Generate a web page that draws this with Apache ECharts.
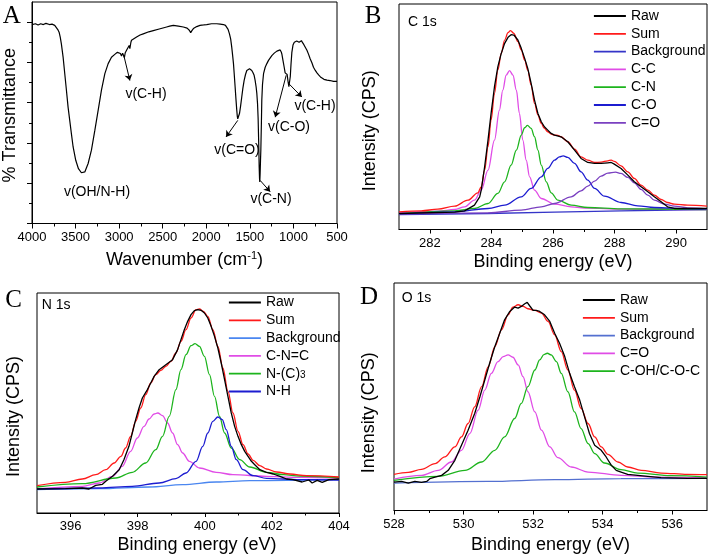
<!DOCTYPE html>
<html><head><meta charset="utf-8">
<script src="https://cdn.jsdelivr.net/npm/echarts@6/dist/echarts.min.js"></script>
<style>html,body{margin:0;padding:0;background:#fff}#c{width:710px;height:559px}</style>
</head><body><div id="c"></div>
<script>
// ---------- DATA ----------
// Panel A: FTIR (wavenumber cm-1, transmittance arb.)
const irSpectrum = [[4000,49.4],[3960,49.6],[3930,49.3],[3900,49.6],[3870,49.4],[3840,49.7],[3800,49.4],[3770,49.5],[3739,49.2],[3720,48.8],[3700,48.0],[3689,47.5],[3676,46.3],[3663,44.6],[3643,41.3],[3624,37.2],[3605,33.1],[3586,28.9],[3567,25.6],[3548,22.3],[3528,19.0],[3498,15.7],[3467,13.6],[3433,12.6],[3421,12.4],[3394,12.8],[3356,14.9],[3318,18.2],[3279,23.1],[3241,28.1],[3203,33.1],[3164,37.2],[3126,39.7],[3088,41.3],[3050,42.0],[3020,42.5],[3000,42.6],[2985,42.2],[2973,41.6],[2960,42.3],[2950,42.0],[2940,41.2],[2930,42.4],[2915,43.0],[2905,42.6],[2896,43.4],[2885,44.2],[2877,43.4],[2865,45.0],[2858,45.5],[2838,45.9],[2800,46.3],[2760,46.8],[2723,47.1],[2660,47.6],[2608,47.9],[2540,48.3],[2455,48.8],[2420,49.0],[2378,49.2],[2320,49.0],[2263,48.8],[2220,48.5],[2195,48.0],[2179,47.4],[2165,47.9],[2148,48.4],[2110,48.9],[2072,49.2],[2030,49.3],[1995,49.4],[1940,49.6],[1880,49.6],[1840,49.5],[1803,49.4],[1780,49.2],[1765,48.8],[1750,48.2],[1734,47.1],[1720,45.8],[1708,43.8],[1698,41.8],[1688,39.7],[1679,37.0],[1669,33.9],[1660,31.0],[1650,28.1],[1644,26.6],[1639,26.0],[1630,26.3],[1619,27.3],[1606,29.2],[1593,31.4],[1580,33.6],[1566,35.5],[1550,37.0],[1535,38.0],[1520,38.4],[1504,38.4],[1490,38.3],[1478,38.0],[1465,37.5],[1451,36.8],[1440,35.6],[1428,33.9],[1420,32.3],[1412,29.8],[1405,26.0],[1401,22.3],[1396,17.5],[1393,14.0],[1389,11.2],[1386,10.3],[1382,12.5],[1378,15.5],[1374,18.2],[1368,24.5],[1363,30.6],[1355,34.5],[1343,37.2],[1324,38.8],[1305,39.7],[1286,40.5],[1248,41.7],[1220,42.3],[1190,42.8],[1170,43.0],[1152,43.1],[1140,42.6],[1133,42.1],[1120,40.5],[1106,38.8],[1095,37.4],[1083,37.8],[1072,37.0],[1062,35.3],[1052,34.0],[1044,33.7],[1036,36.5],[1028,39.5],[1018,42.5],[1005,44.3],[990,45.0],[975,44.7],[962,45.3],[949,45.6],[935,45.0],[922,45.3],[908,45.4],[895,44.9],[880,44.4],[864,44.0],[845,43.0],[826,42.0],[808,40.9],[788,39.9],[770,38.8],[749,38.0],[730,37.4],[711,36.9],[690,36.4],[673,36.1],[650,35.8],[615,35.6],[580,35.5],[540,35.3],[520,35.4],[500,35.3]];
const irLabels = ['v(OH/N-H)','v(C-H)','v(C=O)','v(C-N)','v(C-O)','v(C-H)'];
const irArrows = [[[2946,41.7],[2877,35.5]],[[1639,25.6],[1773,21.5]],[[1382,10.7],[1267,7.9]],[[1083,36.8],[1209,26.4]],[[1052,34.7],[903,31.4]]];
const irTicksX = [500,1000,1500,2000,2500,3000,3500,4000];
const irTicksY = [0,10,20,30,40,50];
const irMinorY = [5,15,25,35,45];

// Panel B: C 1s
const c1sRaw = [[281.00,4.8],[282.81,5.2],[283.13,5.6],[283.45,7.3],[283.62,9.8],[283.67,11.8],[283.78,18.8],[283.89,26.8],[283.99,34.8],[284.10,42.8],[284.21,48.8],[284.32,52.8],[284.43,55.8],[284.54,57.6],[284.64,58.4],[284.73,58.3],[284.86,56.8],[284.97,54.3],[285.08,51.3],[285.18,48.3],[285.29,43.8],[285.40,38.8],[285.51,34.8],[285.62,32.3],[285.72,30.8],[285.83,29.8],[285.94,28.8],[286.05,28.3],[286.26,27.8],[286.48,26.3],[286.70,23.8],[286.91,21.3],[287.13,20.1],[287.35,19.8],[287.56,19.8],[287.78,20.0],[287.89,20.1],[287.99,19.6],[288.21,18.3],[288.43,16.3],[288.64,14.3],[288.86,12.8],[289.08,11.3],[289.29,9.8],[289.51,8.3],[289.72,6.8],[289.94,6.3],[290.37,6.3],[291.00,6.3]];
const c1sSum = [[281.00,5.3],[281.72,5.6],[282.26,6.1],[282.81,7.0],[283.24,8.8],[283.56,11.0],[283.67,12.8],[283.78,17.8],[283.89,24.8],[283.99,32.8],[284.10,40.8],[284.21,47.8],[284.32,52.8],[284.43,56.8],[284.54,59.0],[284.62,59.6],[284.73,58.8],[284.86,56.3],[284.97,53.8],[285.08,50.8],[285.18,47.8],[285.29,43.3],[285.40,37.8],[285.51,34.3],[285.62,31.8],[285.72,30.3],[285.83,29.3],[285.94,28.6],[286.05,28.3],[286.16,28.2],[286.26,27.8],[286.48,26.3],[286.70,24.1],[286.91,21.8],[287.13,20.8],[287.35,20.1],[287.56,20.2],[287.78,20.6],[287.89,20.8],[287.99,20.4],[288.21,19.1],[288.43,17.3],[288.64,15.3],[288.86,13.3],[289.08,11.8],[289.29,10.3],[289.51,9.0],[289.72,8.1],[289.94,7.6],[290.37,7.3],[291.00,7.0]];
const c1sBackground = [[281.00,4.5],[283.89,4.8],[286.05,5.2],[288.21,5.6],[291.00,6.0]];
const c1sCC = [[281.00,5.0],[282.26,5.5],[282.81,6.0],[283.13,6.8],[283.45,8.8],[283.67,11.8],[283.89,17.8],[284.10,26.8],[284.26,35.8],[284.37,41.8],[284.48,46.3],[284.59,47.6],[284.70,46.3],[284.81,41.8],[284.91,34.8],[285.02,26.8],[285.13,20.8],[285.24,15.8],[285.40,11.8],[285.62,9.3],[286.05,7.6],[286.59,6.8],[287.13,6.4],[288.21,6.1],[291.00,6.0]];
const c1sCN = [[281.00,4.7],[282.81,5.6],[283.45,6.3],[283.89,7.8],[284.21,10.8],[284.43,14.3],[284.64,19.3],[284.81,23.8],[284.97,28.3],[285.08,30.5],[285.17,31.2],[285.29,30.3],[285.40,27.8],[285.51,23.8],[285.62,19.3],[285.78,14.3],[285.94,11.0],[286.16,8.8],[286.59,7.3],[287.13,6.6],[288.21,6.2],[291.00,6.0]];
const c1sCO = [[281.00,4.6],[282.81,5.3],[283.89,6.3],[284.43,7.3],[284.97,9.8],[285.29,12.3],[285.62,15.8],[285.83,18.3],[286.05,20.8],[286.21,21.8],[286.33,22.1],[286.48,21.6],[286.70,19.8],[286.91,17.3],[287.13,14.8],[287.35,12.3],[287.67,10.0],[288.21,8.1],[288.75,7.1],[289.29,6.6],[290.37,6.2],[291.00,6.1]];
const c1sCdO = [[281.00,4.6],[283.89,5.0],[284.97,5.8],[285.62,6.8],[286.05,7.8],[286.59,9.8],[286.91,11.6],[287.13,13.0],[287.35,14.5],[287.56,16.0],[287.78,16.9],[288.03,17.2],[288.21,16.8],[288.43,15.6],[288.64,14.0],[288.86,12.0],[289.08,10.3],[289.29,8.8],[289.62,7.6],[289.94,7.0],[290.37,6.5],[291.00,6.2]];
const c1sTicks = [282,284,286,288,290];
const c1sMinor = [283,285,287,289];

// Panel C: N 1s
const n1sRaw = [[395.00,7.2],[395.85,7.3],[396.35,7.5],[396.55,7.2],[396.75,8.3],[396.95,8.6],[397.05,9.5],[397.25,11.0],[397.45,13.0],[397.59,16.0],[397.74,20.0],[397.84,24.0],[397.94,28.0],[398.04,31.5],[398.14,34.5],[398.29,37.0],[398.39,39.0],[398.49,41.0],[398.64,43.0],[398.84,44.5],[399.04,46.0],[399.19,49.0],[399.29,52.0],[399.39,55.0],[399.49,57.5],[399.59,59.5],[399.69,60.7],[399.79,61.0],[399.89,60.8],[399.99,60.0],[400.09,58.5],[400.19,56.0],[400.29,53.0],[400.39,49.5],[400.49,45.0],[400.59,40.0],[400.69,35.0],[400.79,30.0],[400.89,26.0],[400.99,23.0],[401.09,20.5],[401.19,18.5],[401.29,17.0],[401.39,15.5],[401.49,14.5],[401.64,13.0],[401.84,12.2],[402.04,11.7],[402.24,11.0],[402.44,10.2],[402.63,10.0],[402.90,9.3],[403.10,9.9],[403.20,9.0],[403.35,9.8],[403.50,9.2],[403.70,10.0],[404.00,10.2]];
const n1sSum = [[395.00,8.2],[395.85,9.2],[396.35,10.2],[396.75,11.5],[397.05,13.0],[397.30,15.0],[397.50,17.0],[397.64,19.5],[397.79,23.0],[397.94,27.5],[398.09,31.5],[398.24,35.5],[398.39,39.0],[398.54,41.5],[398.69,42.8],[398.84,44.0],[398.99,45.5],[399.14,48.0],[399.29,51.5],[399.44,55.0],[399.59,58.5],[399.74,61.0],[399.84,61.2],[399.96,60.5],[400.09,59.0],[400.24,55.0],[400.39,50.0],[400.54,43.5],[400.69,36.5],[400.84,30.0],[400.99,24.5],[401.14,20.5],[401.29,17.7],[401.44,15.8],[401.64,14.2],[401.84,13.2],[402.14,12.3],[402.54,11.7],[403.03,11.2],[404.00,10.8]];
const n1sBackground = [[395.00,7.0],[396.85,7.3],[398.34,7.8],[399.34,8.5],[400.34,9.3],[401.34,9.7],[404.00,10.0]];
const n1sCNC = [[395.00,7.2],[396.35,8.0],[396.85,9.0],[397.25,11.0],[397.54,14.0],[397.79,18.5],[397.99,22.5],[398.19,26.0],[398.34,28.2],[398.49,29.7],[398.60,30.0],[398.74,29.2],[398.89,27.0],[399.04,24.0],[399.19,20.5],[399.34,18.0],[399.54,15.5],[399.84,13.5],[400.34,12.2],[400.84,11.5],[401.84,11.0],[402.83,10.7],[404.00,10.5]];
const n1sNC3 = [[395.00,7.8],[396.35,8.8],[397.35,10.5],[397.84,12.2],[398.24,15.0],[398.54,19.0],[398.74,23.0],[398.94,29.0],[399.14,37.0],[399.29,43.0],[399.44,47.5],[399.59,50.2],[399.71,50.8],[399.84,50.0],[399.99,47.0],[400.14,41.5],[400.29,35.0],[400.44,29.0],[400.59,24.0],[400.79,19.5],[401.04,16.0],[401.34,13.8],[401.84,12.2],[402.34,11.5],[402.83,11.1],[404.00,10.6]];
const n1sNH = [[395.00,7.2],[396.85,7.5],[397.84,8.0],[398.64,9.0],[399.14,10.3],[399.44,12.0],[399.74,15.5],[399.94,20.0],[400.09,24.0],[400.24,27.5],[400.39,28.8],[400.52,28.0],[400.64,25.0],[400.79,20.0],[400.94,16.0],[401.14,13.0],[401.44,11.2],[401.84,10.4],[402.83,10.0],[404.00,9.9]];
const n1sTicks = [396,398,400,402,404];
const n1sMinor = [397,399,401,403];

// Panel D: O 1s
const o1sRaw = [[528.00,8.5],[528.22,8.7],[528.41,8.2],[528.60,8.7],[528.79,8.4],[528.94,8.7],[529.03,9.5],[529.18,10.0],[529.37,10.5],[529.56,12.0],[529.75,15.0],[529.94,19.5],[530.13,24.0],[530.32,29.0],[530.47,34.0],[530.61,39.0],[530.75,44.0],[530.90,49.0],[531.04,53.0],[531.18,57.0],[531.33,59.5],[531.47,60.8],[531.57,60.5],[531.66,61.0],[531.76,61.8],[531.83,62.2],[531.90,61.2],[532.00,59.8],[532.09,59.8],[532.19,59.5],[532.33,58.5],[532.48,56.5],[532.62,53.0],[532.76,50.0],[532.91,46.0],[533.05,41.0],[533.19,37.0],[533.34,33.0],[533.48,28.0],[533.62,23.0],[533.77,19.5],[533.96,18.0],[534.10,16.0],[534.25,13.5],[534.39,12.0],[534.53,11.5],[534.72,10.8],[535.01,10.5],[535.30,10.2],[535.68,9.8],[536.44,9.6],[537.00,9.6]];
const o1sSum = [[528.00,10.8],[528.41,11.4],[528.79,12.3],[529.18,14.0],[529.46,16.0],[529.75,19.0],[529.94,22.0],[530.13,26.0],[530.32,31.0],[530.52,37.0],[530.71,43.0],[530.90,49.0],[531.09,54.0],[531.28,58.5],[531.42,60.8],[531.57,61.5],[531.71,61.0],[531.85,60.3],[532.05,59.8],[532.24,59.0],[532.43,56.5],[532.62,52.5],[532.81,47.5],[533.00,42.0],[533.19,36.0],[533.38,30.5],[533.58,26.0],[533.77,22.0],[533.96,19.0],[534.15,16.8],[534.44,14.5],[534.72,13.0],[535.11,12.0],[535.68,11.2],[536.44,10.8],[537.00,10.7]];
const o1sBackground = [[528.00,8.2],[530.71,8.7],[532.62,9.2],[534.53,9.5],[537.00,9.6]];
const o1sCdO = [[528.00,9.4],[528.79,10.5],[529.27,12.0],[529.65,14.5],[529.94,18.0],[530.18,23.0],[530.42,30.0],[530.61,36.0],[530.80,41.0],[530.99,44.5],[531.14,46.0],[531.28,46.5],[531.42,45.8],[531.57,43.5],[531.71,40.0],[531.85,35.5],[532.05,29.5],[532.24,24.0],[532.48,19.0],[532.71,15.8],[533.10,13.0],[533.58,11.5],[534.53,10.5],[535.49,10.0],[537.00,9.8]];
const o1sCOH = [[528.00,9.0],[529.27,10.2],[530.04,12.0],[530.52,14.5],[530.90,18.0],[531.18,22.0],[531.47,27.5],[531.66,32.0],[531.85,37.0],[532.05,42.0],[532.19,45.0],[532.31,46.6],[532.41,47.0],[532.52,46.5],[532.67,44.5],[532.81,41.0],[533.00,35.5],[533.19,29.5],[533.38,24.5],[533.58,20.0],[533.77,17.0],[534.05,14.2],[534.53,12.2],[535.01,11.2],[535.97,10.4],[537.00,10.0]];
const o1sTicks = [528,530,532,534,536];
const o1sMinor = [529,531,533,535];

// ---------- STYLE ----------
const FONT = '"Liberation Sans", Arial, Helvetica, sans-serif';
const SERIF = '"Liberation Serif", "Times New Roman", serif';
const COL = {raw:'#000000', sum:'#ff1a1a', bgB:'#3535c8', bgC:'#4a86f0', bgD:'#5470d0', mag:'#e04ce6', grn:'#1db41d', blu:'#1c1cd0', pur:'#7a40c0'};
const grids = [
  {left:32, top:2, width:305, height:221.5},
  {left:399, top:4, width:308, height:225.5},
  {left:37, top:293, width:302, height:220},
  {left:394, top:283, width:313, height:227.5}
];
const nameStyle = {fontSize:18, color:'#000', fontFamily:FONT};
const tickLbl = {fontSize:13, color:'#000', fontFamily:FONT, margin:7, formatter:function(v){return String(v);}};

function xpsX(grid, min, max, ticks, gap, pad) {
  return {type:'value', gridIndex:grid, min:min, max:max, position:'bottom',
    axisLine:{show:true, lineStyle:{color:'#000', width:1}},
    axisTick:{show:true, inside:false, length:4, customValues:ticks, lineStyle:{color:'#000'}},
    axisLabel:Object.assign({customValues:ticks}, tickLbl),
    splitLine:{show:false},
    name:'Binding energy (eV)', nameLocation:'middle', nameGap:gap,
    nameTextStyle:Object.assign({padding:pad || 0}, nameStyle)};
}
function minorX(grid, min, max, ticks) {
  return {type:'value', gridIndex:grid, min:min, max:max, position:'bottom', offset:0,
    axisLine:{show:false}, axisLabel:{show:false}, splitLine:{show:false},
    axisTick:{show:true, inside:false, length:2.5, customValues:ticks, lineStyle:{color:'#000'}}};
}
function xpsY(grid, max, gap, pad) {
  return {type:'value', gridIndex:grid, min:0, max:max, position:'left',
    axisLine:{show:false}, axisTick:{show:false}, axisLabel:{show:false}, splitLine:{show:false},
    name:'Intensity (CPS)', nameLocation:'middle', nameGap:gap,
    nameTextStyle:Object.assign({padding:pad}, nameStyle)};
}
function ln(name, data, color, idx, smooth) {
  return {type:'line', name:name, data:data, xAxisIndex:idx, yAxisIndex:idx,
    symbol:'none', showSymbol:false, smooth: smooth ? 0.35 : false, smoothMonotone:'x',
    lineStyle:{color:color, width:1.3}, itemStyle:{color:color}, clip:true};
}
function legendItems(names, colors) {
  return names.map((n,i)=>({name:n, lineStyle:{color:colors[i], width:1.8},
    itemStyle:{color:'rgba(0,0,0,0)', opacity:0, borderWidth:0}}));
}
function legend(left, top, names, colors) {
  return {show:true, orient:'vertical', left:left, top:top, itemWidth:32, itemHeight:14, itemGap:3.8,
    padding:0, selectedMode:false, data:legendItems(names, colors),
    itemStyle:{opacity:0},
    textStyle:{fontSize:14, color:'#000', fontFamily:FONT, lineHeight:14,
      rich:{sub:{fontSize:10, fontFamily:FONT, color:'#000', padding:[5,0,0,0], verticalAlign:'bottom'}}},
    formatter:function(n){ return n === 'N-(C)3' ? 'N-(C){sub|3}' : n; }};
}

const irAnnot = [[97,192],[146,94],[237,150],[271,199],[289,127],[315,106]];

const option = {
  animation:false,
  backgroundColor:'#ffffff',
  grid: grids.map(g=>Object.assign({show:true, borderColor:'#000', borderWidth:1, backgroundColor:'transparent', containLabel:false}, g)),
  xAxis:[
    {type:'value', gridIndex:0, min:500, max:4000, interval:500, inverse:true, position:'bottom',
     axisLine:{show:true, lineStyle:{color:'#000'}},
     axisTick:{show:true, inside:false, length:5, lineStyle:{color:'#000'}},
     minorTick:{show:true, splitNumber:2, length:3, lineStyle:{color:'#000'}},
     axisLabel:Object.assign({customValues:irTicksX}, tickLbl), splitLine:{show:false},
     name:'Wavenumber (cm{sup|-1})', nameLocation:'middle', nameGap:27,
     nameTextStyle:Object.assign({rich:{sup:{fontSize:11, fontFamily:FONT, color:'#000', padding:[0,0,9,0]}}}, nameStyle)},
    xpsX(1, 281, 291, c1sTicks, 24),
    xpsX(2, 395, 404, n1sTicks, 23.5, [0,0,0,18]),
    xpsX(3, 528, 537, o1sTicks, 25.5),
    minorX(1, 281, 291, c1sMinor),
    minorX(2, 395, 404, n1sMinor),
    minorX(3, 528, 537, o1sMinor)
  ],
  yAxis:[
    {type:'value', gridIndex:0, min:0, max:55, position:'left',
     axisLine:{show:true, lineStyle:{color:'#000'}},
     axisTick:{show:true, inside:false, length:5, customValues:irTicksY, lineStyle:{color:'#000'}},
     axisLabel:{show:false}, splitLine:{show:false},
     name:'% Transmittance', nameLocation:'middle', nameGap:13, nameTextStyle:Object.assign({padding:[0,5,0,0]}, nameStyle)},
    xpsY(1, 67.6, 20, [0,28,0,0]),
    xpsY(2, 66, 14, [0,27,0,0]),
    xpsY(3, 68, 16, [0,32,0,0]),
    {type:'value', gridIndex:0, min:0, max:55, position:'left', offset:0,
     axisLine:{show:false}, axisLabel:{show:false}, splitLine:{show:false},
     axisTick:{show:true, inside:false, length:3, customValues:irMinorY, lineStyle:{color:'#000'}}}
  ],
  legend:[
    legend(593, 9, ['Raw','Sum','Background','C-C','C-N','C-O','C=O'], [COL.raw,COL.sum,COL.bgB,COL.mag,COL.grn,COL.blu,COL.pur]),
    legend(228, 295.5, ['Raw','Sum','Background','C-N=C','N-(C)3','N-H'], [COL.raw,COL.sum,COL.bgC,COL.mag,COL.grn,COL.blu]),
    legend(582, 293, ['Raw','Sum','Background','C=O','C-OH/C-O-C'], [COL.raw,COL.sum,COL.bgD,COL.mag,COL.grn])
  ],
  series:[
    {type:'line', name:'FTIR', data:irSpectrum, xAxisIndex:0, yAxisIndex:0, symbol:'none', showSymbol:false,
     lineStyle:{color:'#000', width:1.2},
     markLine:{silent:true, symbol:['none','arrow'], symbolSize:6, label:{show:false},
       lineStyle:{color:'#000', width:1, type:'solid'}, emphasis:{disabled:true},
       data: irArrows.map(a=>[{coord:a[0]},{coord:a[1]}])}},
    ln('Background', c1sBackground, COL.bgB, 1, false),
    ln('C-C', c1sCC, COL.mag, 1, true),
    ln('C-N', c1sCN, COL.grn, 1, true),
    ln('C-O', c1sCO, COL.blu, 1, true),
    ln('C=O', c1sCdO, COL.pur, 1, true),
    ln('Sum', c1sSum, COL.sum, 1, true),
    ln('Raw', c1sRaw, COL.raw, 1, false),
    ln('Background', n1sBackground, COL.bgC, 2, true),
    ln('C-N=C', n1sCNC, COL.mag, 2, true),
    ln('N-(C)3', n1sNC3, COL.grn, 2, true),
    ln('N-H', n1sNH, COL.blu, 2, true),
    ln('Sum', n1sSum, COL.sum, 2, true),
    ln('Raw', n1sRaw, COL.raw, 2, false),
    ln('Background', o1sBackground, COL.bgD, 3, true),
    ln('C=O', o1sCdO, COL.mag, 3, true),
    ln('C-OH/C-O-C', o1sCOH, COL.grn, 3, true),
    ln('Sum', o1sSum, COL.sum, 3, true),
    ln('Raw', o1sRaw, COL.raw, 3, false)
  ],
  graphic:[
    {type:'text', x:11.7, y:16.5, style:{text:'A', fontSize:25, fontFamily:SERIF, fill:'#000', align:'center', verticalAlign:'middle'}},
    {type:'text', x:373, y:16, style:{text:'B', fontSize:25, fontFamily:SERIF, fill:'#000', align:'center', verticalAlign:'middle'}},
    {type:'text', x:13.5, y:300, style:{text:'C', fontSize:25, fontFamily:SERIF, fill:'#000', align:'center', verticalAlign:'middle'}},
    {type:'text', x:369, y:297.5, style:{text:'D', fontSize:25, fontFamily:SERIF, fill:'#000', align:'center', verticalAlign:'middle'}},
    {type:'text', x:408, y:21.7, style:{text:'C 1s', fontSize:14, fontFamily:FONT, fill:'#000', align:'left', verticalAlign:'middle'}},
    {type:'text', x:41.7, y:305, style:{text:'N 1s', fontSize:14, fontFamily:FONT, fill:'#000', align:'left', verticalAlign:'middle'}},
    {type:'text', x:401.7, y:298.3, style:{text:'O 1s', fontSize:14, fontFamily:FONT, fill:'#000', align:'left', verticalAlign:'middle'}}
  ].concat(irLabels.map((t,i)=>({type:'text', x:irAnnot[i][0], y:irAnnot[i][1],
      style:{text:t, fontSize:14, fontFamily:FONT, fill:'#000', align:'center', verticalAlign:'middle'}})))
};
const chart = echarts.init(document.getElementById('c'), null, {renderer:'canvas'});
chart.setOption(option);
</script></body></html>
